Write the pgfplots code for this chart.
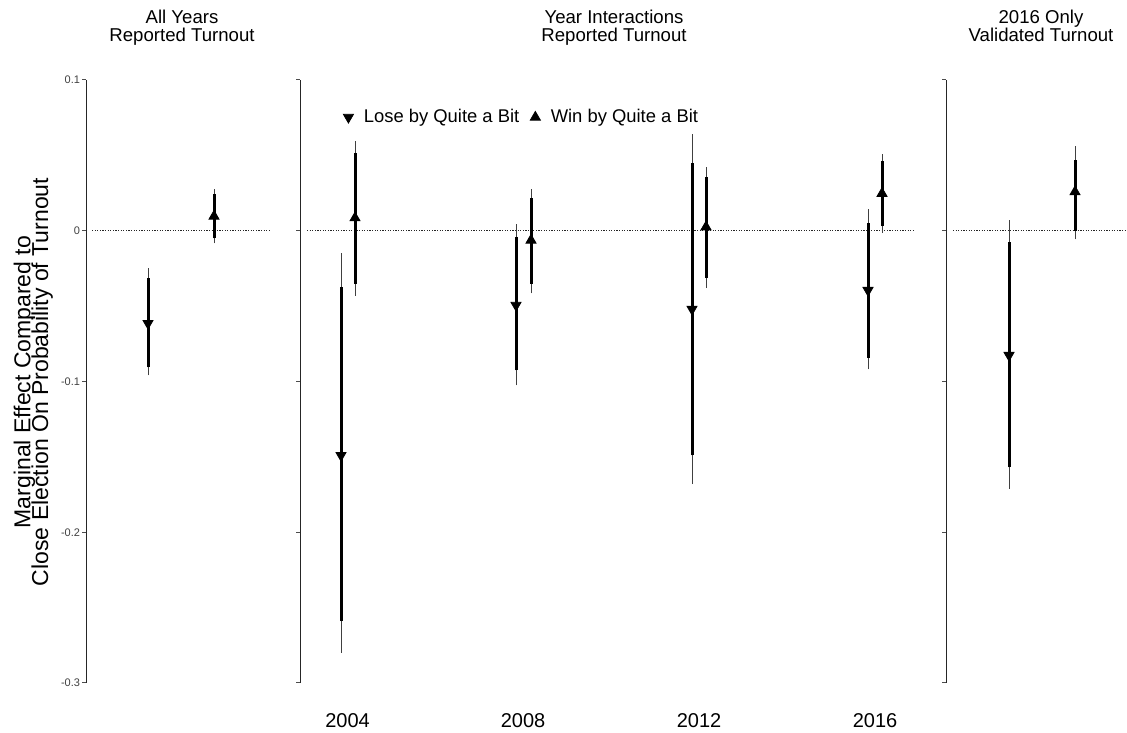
\documentclass[border=0pt]{standalone}
\usepackage{fontspec}
\setmainfont{Liberation Sans}
\usepackage{pgfplots}
\pgfplotsset{compat=1.18}
\pgfplotsset{
  panel/.style={
    scale only axis, height=301.5pt, ymin=-0.3, ymax=0.1,
    axis y line*=left,
    ytick={-0.3,-0.2,-0.1,0,0.1},
    tick align=outside, major tick length=2pt,
    y axis line style={line width=0.5pt, black!85},
    ytick style={line width=0.5pt, black!70},
    clip=false,
  },
  zeroline/.style={black!85, line width=0.45pt, dash pattern=on 0.6pt off 0.7pt},
  thin/.style={black!75, line width=0.5pt, unbounded coords=jump},
  thick/.style={black, line width=1.5pt, unbounded coords=jump},
  dn/.style={only marks, mark=triangle*, mark size=2.9pt, mark options={rotate=180, fill=black, draw=black}},
  up/.style={only marks, mark=triangle*, mark size=2.9pt, mark options={fill=black, draw=black}},
}
\begin{document}
\begin{tikzpicture}
\path[use as bounding box] (0,0) rectangle (563.5pt,366pt);

% ---------- Left panel ----------
\begin{axis}[panel, at={(43pt,24.5pt)}, anchor=south west, width=93pt,
  xmin=86, xmax=272, axis x line=none,
  yticklabels={-0.3,-0.2,-0.1,0,0.1},
  yticklabel style={font=\fontsize{5.5}{6}\selectfont, text=black!75, inner sep=0.8pt}]
\addplot[zeroline] coordinates {(92,0) (270,0)};
\addplot[thin] coordinates {(148,-0.0959) (148,-0.025) (148,nan) (214,-0.0083) (214,0.0275)};
\addplot[thick] coordinates {(148,-0.0906) (148,-0.0315) (148,nan) (214,-0.005) (214,0.0242)};
\addplot[dn] coordinates {(148,-0.0614)};
\addplot[up] coordinates {(214,0.0096)};
\end{axis}

% ---------- Middle panel ----------
\begin{axis}[panel, at={(150pt,24.5pt)}, anchor=south west, width=308.5pt,
  xmin=300, xmax=917, axis x line*=bottom,
  x axis line style={draw=none}, xtick style={draw=none},
  xtick={347.5,523,699,875}, xticklabels={2004,2008,2012,2016},
  xticklabel style={font=\fontsize{10}{12}\selectfont, anchor=base, yshift=-20.3pt},
  yticklabels={},
  legend style={draw=none, fill=none, at={(axis cs:337,0.0753)}, anchor=west,
    font=\fontsize{9.2}{10}\selectfont, legend columns=2,
    /tikz/every odd column/.append style={column sep=3.2pt},
    /tikz/every even column/.append style={column sep=3.5pt}},
  legend image code/.code={\draw[#1] plot coordinates {(0.12cm,0cm)};}]
\addlegendimage{dn}
\addlegendentry{Lose by Quite a Bit}
\addlegendimage{up}
\addlegendentry{Win by Quite a Bit}
\addplot[zeroline, forget plot] coordinates {(307,0) (915,0)};
\addplot[thin, forget plot] coordinates {
  (341,-0.280) (341,-0.015) (341,nan)
  (355,-0.043) (355,0.0596) (355,nan)
  (516,-0.1025) (516,0.0043) (516,nan)
  (531,-0.0415) (531,0.028) (531,nan)
  (692,-0.168) (692,0.064) (692,nan)
  (706,-0.038) (706,0.0423) (706,nan)
  (868,-0.092) (868,0.0143) (868,nan)
  (882,-0.0015) (882,0.0506)};
\addplot[thick, forget plot] coordinates {
  (341,-0.259) (341,-0.0375) (341,nan)
  (355,-0.035) (355,0.0516) (355,nan)
  (516,-0.0926) (516,-0.004) (516,nan)
  (531,-0.035) (531,0.022) (531,nan)
  (692,-0.149) (692,0.045) (692,nan)
  (706,-0.0313) (706,0.0357) (706,nan)
  (868,-0.0842) (868,0.0052) (868,nan)
  (882,0.003) (882,0.0463)};
\addplot[dn, forget plot] coordinates {(341,-0.149) (516,-0.0494) (692,-0.052) (868,-0.0395)};
\addplot[up, forget plot] coordinates {(355,0.0085) (531,-0.0063) (706,0.0025) (882,0.0247)};
\end{axis}

% ---------- Right panel ----------
\begin{axis}[panel, at={(473pt,24.5pt)}, anchor=south west, width=90.5pt,
  xmin=946, xmax=1127, axis x line=none, yticklabels={}]
\addplot[zeroline] coordinates {(953,0) (1127,0)};
\addplot[thin] coordinates {(1009,-0.171) (1009,0.007) (1009,nan) (1075,-0.0058) (1075,0.056)};
\addplot[thick] coordinates {(1009,-0.157) (1009,-0.0074) (1009,nan) (1075,0.0) (1075,0.0468)};
\addplot[dn] coordinates {(1009,-0.0826)};
\addplot[up] coordinates {(1075,0.0258)};
\end{axis}

% ---------- Titles ----------
\begin{scope}[every node/.style={font=\fontsize{9.3}{10}\selectfont, anchor=base, inner sep=0pt}]
\node at (91pt,354pt) {All Years};
\node at (91pt,345.15pt) {Reported Turnout};
\node at (307pt,354pt) {Year Interactions};
\node at (307pt,345.15pt) {Reported Turnout};
\node at (520.5pt,354pt) {2016 Only};
\node at (520.5pt,345.15pt) {Validated Turnout};
\end{scope}

% ---------- Y label ----------
\begin{scope}[every node/.style={font=\fontsize{11.5}{12}\selectfont, anchor=base, rotate=90, inner sep=0pt}]
\node at (15.2pt,175pt) {Marginal Effect Compared to};
\node at (24pt,175pt) {Close Election On Probability of Turnout};
\end{scope}
\end{tikzpicture}
\end{document}
